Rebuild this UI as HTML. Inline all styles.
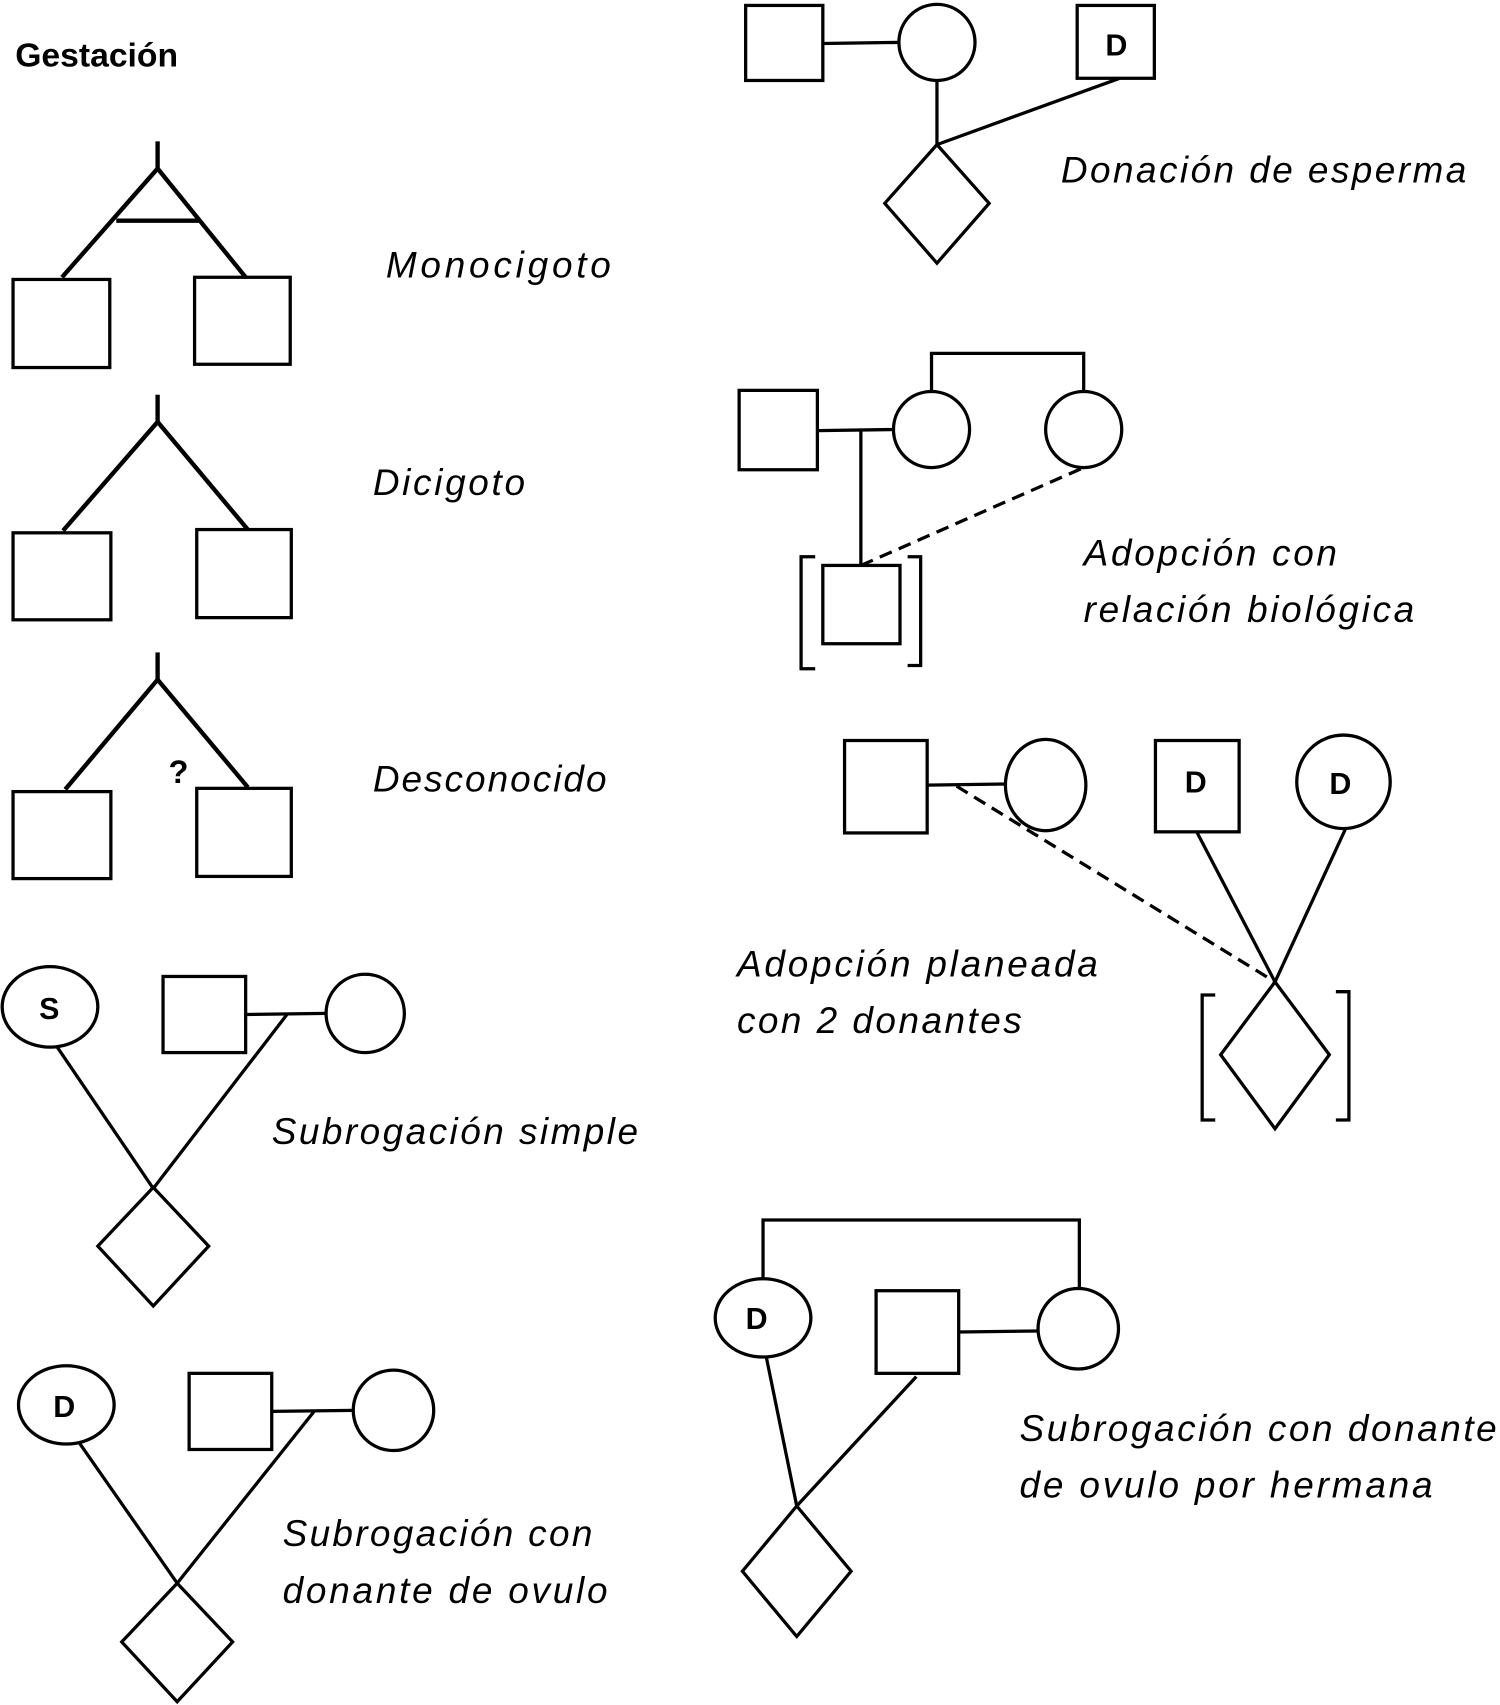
<!DOCTYPE html>
<html><head><meta charset="utf-8"><style>
html,body{margin:0;padding:0;background:#fff;}
svg{display:block;}
text{font-family:"Liberation Sans","DejaVu Sans",sans-serif;}
.it{font-style:italic;font-size:34px;fill:#000;letter-spacing:1px;}
.b{font-weight:bold;fill:#000;}
</style></head><body>
<svg width="1500" height="1705" viewBox="0 0 1380 1568" preserveAspectRatio="none" xmlns="http://www.w3.org/2000/svg">
<g fill="none" stroke="#000" stroke-width="3">
<!-- Monocigoto -->
<g stroke-width="4">
<line x1="145" y1="130" x2="145" y2="155"/>
<polyline points="57,255 145,155 226,255"/>
<line x1="107" y1="203" x2="183" y2="203"/>
<!-- Dicigoto -->
<line x1="145" y1="363" x2="145" y2="388"/>
<polyline points="58,488 145,388 228,487"/>
<!-- Desconocido -->
<line x1="145" y1="600" x2="145" y2="625"/>
<polyline points="60,726 145,625 228,724"/>
</g>
<rect x="12" y="257" width="89" height="81"/>
<rect x="179" y="255" width="88" height="80"/>
<rect x="12" y="490" width="90" height="80"/>
<rect x="181" y="487" width="87" height="81"/>
<rect x="12" y="728" width="90" height="80"/>
<rect x="181" y="725" width="87" height="81"/>

<!-- Subrogacion simple -->
<ellipse cx="46" cy="926" rx="44" ry="37"/>
<rect x="150" y="898" width="76" height="70"/>
<circle cx="336" cy="932" r="36"/>
<line x1="226" y1="933" x2="300" y2="932"/>
<line x1="52" y1="962" x2="141" y2="1093"/>
<line x1="264" y1="933" x2="141" y2="1093"/>
<polygon points="141,1092 192,1146 141,1201 90,1146"/>

<!-- Subrogacion donante ovulo -->
<ellipse cx="61" cy="1292" rx="44" ry="36"/>
<rect x="174" y="1263" width="76" height="70"/>
<circle cx="362" cy="1297" r="37"/>
<line x1="250" y1="1298" x2="325" y2="1297"/>
<line x1="73" y1="1327" x2="163" y2="1456"/>
<line x1="289" y1="1298" x2="163" y2="1456"/>
<polygon points="163,1456 214,1510 163,1565 112,1510"/>

<!-- Donacion de esperma -->
<rect x="686" y="5" width="71" height="69"/>
<line x1="757" y1="40" x2="828" y2="39"/>
<circle cx="862" cy="39" r="35"/>
<rect x="991" y="5" width="71" height="67"/>
<line x1="862" y1="74" x2="862" y2="133"/>
<line x1="862" y1="133" x2="1030" y2="72"/>
<polygon points="862,133 910,187 862,242 814,187"/>

<!-- Adopcion con relacion biologica -->
<rect x="680" y="359" width="72" height="73"/>
<line x1="752" y1="396" x2="822" y2="395"/>
<circle cx="857" cy="395" r="35"/>
<circle cx="997" cy="395" r="35"/>
<polyline points="857,360 857,325 997,325 997,360"/>
<line x1="792" y1="396" x2="792" y2="520"/>
<line x1="792" y1="520" x2="997" y2="430" stroke-dasharray="12,7"/>
<rect x="757" y="520" width="71" height="72"/>
<polyline points="750,512 737,512 737,615 750,615"/>
<polyline points="835,512 847,512 847,612 835,612"/>

<!-- Adopcion planeada -->
<rect x="777" y="681" width="76" height="85"/>
<ellipse cx="962" cy="722" rx="37" ry="42"/>
<line x1="853" y1="722" x2="925" y2="721"/>
<line x1="880" y1="723" x2="1173" y2="903" stroke-dasharray="12,7"/>
<rect x="1063" y="681" width="77" height="84"/>
<circle cx="1236" cy="719" r="43"/>
<line x1="1101" y1="765" x2="1173" y2="903"/>
<line x1="1238" y1="762" x2="1173" y2="903"/>
<polygon points="1173,903 1223,970 1173,1038 1123,970"/>
<polyline points="1118,915 1106,915 1106,1030 1118,1030"/>
<polyline points="1229,912 1241,912 1241,1030 1229,1030"/>

<!-- Subrogacion hermana -->
<polyline points="702,1176 702,1122 993,1122 993,1186"/>
<ellipse cx="702" cy="1212" rx="44" ry="36"/>
<rect x="806" y="1187" width="76" height="76"/>
<circle cx="992" cy="1222" r="37"/>
<line x1="882" y1="1225" x2="955" y2="1224"/>
<line x1="705" y1="1248" x2="733" y2="1385"/>
<line x1="843" y1="1266" x2="733" y2="1385"/>
<polygon points="733,1385 783,1445 733,1505 683,1445"/>
</g>

<text x="14" y="61" class="b" font-size="31">Gestación</text>
<text x="155" y="720" class="b" font-size="30">?</text>
<text x="36" y="937" class="b" font-size="28">S</text>
<text x="49" y="1303" class="b" font-size="28">D</text>
<text x="1017" y="51" class="b" font-size="28">D</text>
<text x="1090" y="729" class="b" font-size="28">D</text>
<text x="1223" y="730" class="b" font-size="28">D</text>
<text x="686" y="1222" class="b" font-size="28">D</text>

<text x="355" y="255" class="it" textLength="208">Monocigoto</text>
<text x="343" y="455" class="it" textLength="141">Dicigoto</text>
<text x="343" y="728" class="it" textLength="216">Desconocido</text>
<text x="250" y="1052" class="it" textLength="338">Subrogación simple</text>
<text x="260" y="1422" class="it" textLength="286">Subrogación con</text>
<text x="260" y="1474" class="it" textLength="300">donante de ovulo</text>
<text x="976" y="168" class="it" textLength="374">Donación de esperma</text>
<text x="997" y="520" class="it" textLength="234">Adopción con</text>
<text x="997" y="572" class="it" textLength="305">relación biológica</text>
<text x="678" y="898" class="it" textLength="333">Adopción planeada</text>
<text x="678" y="950" class="it" textLength="263">con 2 donantes</text>
<text x="938" y="1325" class="it" textLength="440">Subrogación con donante</text>
<text x="938" y="1377" class="it" textLength="381">de ovulo por hermana</text>
</svg>
</body></html>
